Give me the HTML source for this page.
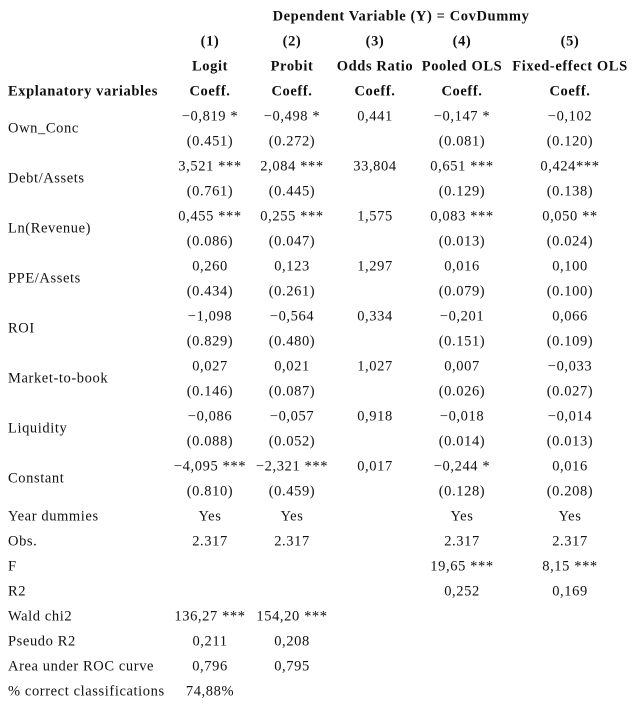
<!DOCTYPE html>
<html><head><meta charset="utf-8">
<style>
html,body{margin:0;padding:0;background:#fff;}
body{width:638px;height:708px;position:relative;overflow:hidden;font-family:"Liberation Serif","DejaVu Serif",serif;font-size:14.5px;letter-spacing:0.6px;color:#111;}
.c{position:absolute;transform:translate(-50%,-50%);white-space:nowrap;}
.l{position:absolute;left:8px;transform:translateY(-50%);white-space:nowrap;}
.b{font-weight:bold;}
</style></head>
<body>
<div id="t"></div>
<script>
const cols=[210,292,375,462,570];
const root=document.getElementById('t');
function cell(x,y,txt,cls,name){
  const d=document.createElement('div');
  d.className=cls;
  if(x!==null)d.style.left=x+'px';
  d.style.top=y+'px';
  d.textContent=txt;
  
  
  root.appendChild(d);
}
cell(401,17,'Dependent Variable (Y) = CovDummy','c b','dependent-variable-title');
const nums=['(1)','(2)','(3)','(4)','(5)'];
const models=['Logit','Probit','Odds Ratio','Pooled OLS','Fixed-effect OLS'];
nums.forEach((t,i)=>cell(cols[i],42,t,'c b','model-number'));
models.forEach((t,i)=>cell(cols[i],67,t,'c b','model-name'));
cell(null,92,'Explanatory variables','l b','explanatory-header');
cols.forEach(x=>cell(x,92,'Coeff.','c b','coeff-header'));
const vars=['Own_Conc','Debt/Assets','Ln(Revenue)','PPE/Assets','ROI','Market-to-book','Liquidity','Constant'];
const coefs=[
['−0,819 *','−0,498 *','0,441','−0,147 *','−0,102'],
['3,521 ***','2,084 ***','33,804','0,651 ***','0,424***'],
['0,455 ***','0,255 ***','1,575','0,083 ***','0,050 **'],
['0,260','0,123','1,297','0,016','0,100'],
['−1,098','−0,564','0,334','−0,201','0,066'],
['0,027','0,021','1,027','0,007','−0,033'],
['−0,086','−0,057','0,918','−0,018','−0,014'],
['−4,095 ***','−2,321 ***','0,017','−0,244 *','0,016']];
const ses=[
['(0.451)','(0.272)','','(0.081)','(0.120)'],
['(0.761)','(0.445)','','(0.129)','(0.138)'],
['(0.086)','(0.047)','','(0.013)','(0.024)'],
['(0.434)','(0.261)','','(0.079)','(0.100)'],
['(0.829)','(0.480)','','(0.151)','(0.109)'],
['(0.146)','(0.087)','','(0.026)','(0.027)'],
['(0.088)','(0.052)','','(0.014)','(0.013)'],
['(0.810)','(0.459)','','(0.128)','(0.208)']];
vars.forEach((v,r)=>{
  const y=117+r*50;
  cell(null,y+12,v,'l','variable-label');
  coefs[r].forEach((t,i)=>{if(t)cell(cols[i],y,t,'c','coefficient');});
  ses[r].forEach((t,i)=>{if(t)cell(cols[i],y+25,t,'c','standard-error');});
});
const stats=[
['Year dummies',['Yes','Yes','','Yes','Yes']],
['Obs.',['2.317','2.317','','2.317','2.317']],
['F',['','','','19,65 ***','8,15 ***']],
['R2',['','','','0,252','0,169']],
['Wald chi2',['136,27 ***','154,20 ***','','','']],
['Pseudo R2',['0,211','0,208','','','']],
['Area under ROC curve',['0,796','0,795','','','']],
['% correct classifications',['74,88%','','','','']]];
stats.forEach((s,r)=>{
  const y=517+r*25;
  cell(null,y,s[0],'l','statistic-label');
  s[1].forEach((t,i)=>{if(t)cell(cols[i],y,t,'c','statistic-value');});
});
</script>
</body></html>
